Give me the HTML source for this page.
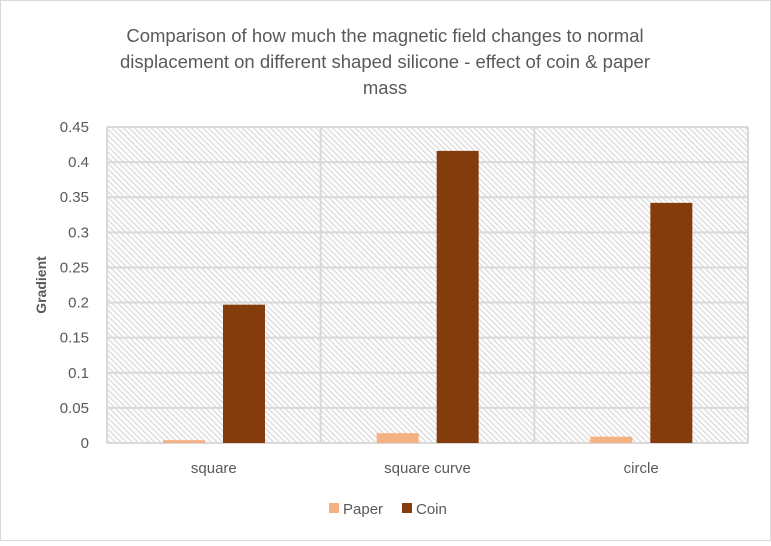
<!DOCTYPE html>
<html><head><meta charset="utf-8"><style>
body{margin:0;background:#fff;font-family:"Liberation Sans",sans-serif}
svg text{font-family:"Liberation Sans",sans-serif}
</style></head><body>
<svg width="771" height="541" xmlns="http://www.w3.org/2000/svg">
<defs><pattern id="hatch" patternUnits="userSpaceOnUse" width="4" height="4" patternTransform="rotate(-45)">
<rect width="4" height="4" fill="#fff"/><rect x="0" y="0" width="1.6" height="4" fill="#e0e0e0"/></pattern></defs>
<rect x="0.5" y="0.5" width="770" height="540" fill="#fff" stroke="#d9d9d9"/>
<g fill="#595959" font-size="18.5" text-anchor="middle">
<text x="385" y="42">Comparison of how much the magnetic field changes to normal</text>
<text x="385" y="68">displacement on different shaped silicone - effect of coin &amp; paper</text>
<text x="385" y="94">mass</text></g>
<rect x="107" y="127" width="641" height="316" fill="url(#hatch)"/>
<g id="grid"></g><g id="bars"></g><g id="labels"></g>
<text transform="translate(46,285) rotate(-90)" text-anchor="middle" font-size="14" font-weight="bold" fill="#595959">Gradient</text>
<g font-size="15" fill="#595959">
<rect x="329" y="503" width="10" height="10" fill="#f4b183"/>
<text x="343" y="514">Paper</text>
<rect x="402" y="503" width="10" height="10" fill="#843c0c"/>
<text x="416" y="514">Coin</text></g>
</svg>
<script>
const categories=["square","square curve","circle"];
const paper=[0.004,0.014,0.009];
const coin=[0.197,0.416,0.342];
const ticks=["0","0.05","0.1","0.15","0.2","0.25","0.3","0.35","0.4","0.45"];
const ns="http://www.w3.org/2000/svg";
const X0=107,X1=748,Y0=443,Y1=127,max=0.45;
const y=v=>Y0-(v/max)*(Y0-Y1);
const cw=(X1-X0)/categories.length;
function mk(t,a,p){const e=document.createElementNS(ns,t);for(const k in a)e.setAttribute(k,a[k]);p.appendChild(e);return e;}
const g=document.getElementById('grid'),b=document.getElementById('bars'),l=document.getElementById('labels');
ticks.forEach(t=>{const v=parseFloat(t),yy=y(v);
const ln=mk('line',{x1:X0,x2:X1,y1:yy,y2:yy,stroke:'#d9d9d9','stroke-width':2},g);


const tx=mk('text',{x:89,y:yy+5,'text-anchor':'end','font-size':15,fill:'#595959'},l);tx.textContent=t;

});
for(let i=0;i<=categories.length;i++){const xx=X0+i*cw;
const ln=mk('line',{x1:xx,x2:xx,y1:Y1,y2:Y0,stroke:'#d9d9d9','stroke-width':2},g);

}
categories.forEach((c,i)=>{const cx=X0+i*cw;
const r1=mk('rect',{x:cx+56,y:y(paper[i]),width:42,height:Y0-y(paper[i]),fill:'#f4b183'},b);


const r2=mk('rect',{x:cx+116,y:y(coin[i]),width:42,height:Y0-y(coin[i]),fill:'#843c0c'},b);


const tx=mk('text',{x:cx+cw/2,y:473,'text-anchor':'middle','font-size':15,fill:'#595959'},l);tx.textContent=c;

});
</script>
</body></html>
